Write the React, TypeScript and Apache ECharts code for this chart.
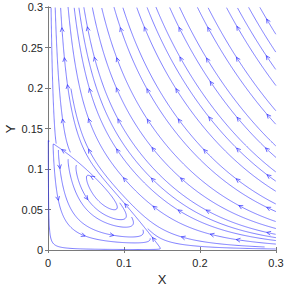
import React, { useEffect, useRef } from "react";
import * as echarts from "echarts";

// Axis ticks and titles
const xTicks = [0, 0.1, 0.2, 0.3];
const yTicks = [0, 0.05, 0.1, 0.15, 0.2, 0.25, 0.3];
const xRange = [0, 0.3];
const yRange = [0, 0.3];
const axisTitles = ["X", "Y"];

// Vector field:
// dX/dt = X (a - X/K - b Y)
// dY/dt = Y (c1 X + c2 X^2 + e Y - d)
const xEqParams = [1.0, 0.15, 7.43]; // a, K, b
const yEqParams = [3.8, 33.3, 6.86, 0.926]; // c1, c2, e, d

// streamslice grids: seed grid, stop grid, arrow grid
const gridSizes = [20, 80, 8];

const LINE_COLOR = "#2b2bff";

function field(x: number, y: number): [number, number] {
  const [a, K, b] = xEqParams;
  const [c1, c2, e, d] = yEqParams;
  return [x * (a - x / K - b * y), y * (c1 * x + c2 * x * x + e * y - d)];
}

function dir(x: number, y: number, s: number): [number, number] | null {
  const [fx, fy] = field(x, y);
  const m = Math.hypot(fx, fy);
  if (m < 1e-10) return null;
  return [(s * fx) / m, (s * fy) / m];
}

function computeStreams() {
  const [N, M, A] = gridSizes;
  const W = xRange[1] - xRange[0];
  const H = yRange[1] - yRange[0];
  const occ = new Int32Array(M * M).fill(-1);
  const occStep = new Int32Array(M * M);
  const startOcc = new Uint8Array(N * N);
  const arrowOcc = new Uint8Array(A * A);
  const h = 0.0007;
  const lines: number[][][] = [];
  const arrows: number[][] = [];
  const cell = (x: number, y: number, n: number) => {
    const cx = Math.min(n - 1, Math.max(0, Math.floor(((x - xRange[0]) / W) * n)));
    const cy = Math.min(n - 1, Math.max(0, Math.floor(((y - yRange[0]) / H) * n)));
    return cy * n + cx;
  };
  const trace = (x0: number, y0: number, s: number, id: number) => {
    const pts: number[][] = [];
    let x = x0, y = y0;
    let prevCell = cell(x, y, M);
    for (let k = 1; k <= 4000; k++) {
      const d1 = dir(x, y, s);
      if (!d1) break;
      const d2 = dir(x + 0.5 * h * d1[0], y + 0.5 * h * d1[1], s);
      if (!d2) break;
      const nx = x + h * d2[0], ny = y + h * d2[1];
      if (nx < xRange[0] || nx > xRange[1] || ny < yRange[0] || ny > yRange[1]) break;
      const step = s * k;
      const c = cell(nx, ny, M);
      if (c !== prevCell) {
        if (occ[c] === -1) { occ[c] = id; occStep[c] = step; }
        else if (occ[c] !== id || Math.abs(occStep[c] - step) > 45) break;
        prevCell = c;
      }
      x = nx; y = ny;
      pts.push([x, y]);
    }
    return pts;
  };
  const total = N * N;
  for (let k = 0; k < total; k++) {
    const idx = (k * 137) % total;
    if (startOcc[idx]) continue;
    const i = idx % N, j = Math.floor(idx / N);
    const x0 = xRange[0] + ((i + 0.5) / N) * W;
    const y0 = yRange[0] + ((j + 0.5) / N) * H;
    const c0 = cell(x0, y0, M);
    if (occ[c0] !== -1) continue;
    const id = lines.length;
    occ[c0] = id; occStep[c0] = 0;
    const fwd = trace(x0, y0, 1, id);
    const bwd = trace(x0, y0, -1, id);
    const line = [...bwd.reverse(), [x0, y0], ...fwd];
    for (const p of line) startOcc[cell(p[0], p[1], N)] = 1;
    // arrows near the centres of a coarse grid
    for (const p of line) {
      const ac = cell(p[0], p[1], A);
      if (arrowOcc[ac]) continue;
      const cx = xRange[0] + ((ac % A) + 0.5) / A * W;
      const cy = yRange[0] + (Math.floor(ac / A) + 0.5) / A * H;
      if (Math.hypot(p[0] - cx, p[1] - cy) < 0.2 * (W / A)) {
        const d = dir(p[0], p[1], 1);
        if (d) { arrows.push([p[0], p[1], d[0], d[1]]); arrowOcc[ac] = 1; }
      }
    }
    const thin: number[][] = [];
    for (let q = 0; q < line.length; q += 2) thin.push(line[q]);
    thin.push(line[line.length - 1]);
    lines.push(thin);
  }
  return { lines, arrows };
}

export default function App() {
  const ref = useRef<HTMLDivElement>(null);
  useEffect(() => {
    if (!ref.current) return;
    const chart = echarts.init(ref.current, undefined, { renderer: "svg" });
    const { lines, arrows } = computeStreams();
    const fmt = (v: number) => String(parseFloat(v.toFixed(3)));
    const font = "Liberation Sans, Arial, sans-serif";
    const axisLine = { show: true, lineStyle: { color: "#7a7a7a", width: 1 } };
    const tickStyle = { show: true, inside: true, length: 3, lineStyle: { color: "#7a7a7a", width: 1 } };
    const labelStyle = { color: "#262626", fontSize: 11, fontFamily: font };
    const series: any[] = lines.map((pts) => ({
      type: "line",
      data: pts,
      showSymbol: false,
      symbol: "none",
      silent: true,
      lineStyle: { color: LINE_COLOR, width: 0.6 },
      emphasis: { disabled: true },
    }));
    series.push({
      type: "custom",
      silent: true,
      data: arrows,
      renderItem: (_p: any, api: any) => {
        const x = api.value(0), y = api.value(1), dx = api.value(2), dy = api.value(3);
        const p = api.coord([x, y]);
        const q = api.coord([x + dx * 0.01, y + dy * 0.01]);
        let vx = q[0] - p[0], vy = q[1] - p[1];
        const L = Math.hypot(vx, vy) || 1;
        vx /= L; vy /= L;
        const len = 4.5, ang = 0.45;
        const bx = -vx, by = -vy;
        const cs = Math.cos(ang), sn = Math.sin(ang);
        const a1 = [p[0] + len * (bx * cs - by * sn), p[1] + len * (bx * sn + by * cs)];
        const a2 = [p[0] + len * (bx * cs + by * sn), p[1] + len * (-bx * sn + by * cs)];
        return {
          type: "polyline",
          shape: { points: [a1, p, a2] },
          style: { stroke: LINE_COLOR, lineWidth: 0.7, fill: null },
        };
      },
    });
    chart.setOption({
      animation: false,
      backgroundColor: "#ffffff",
      grid: { left: 48, right: 12, top: 7, bottom: 38, outerBoundsMode: "none", containLabel: false },
      xAxis: [
        {
          type: "value", min: xRange[0], max: xRange[1], interval: xTicks[1] - xTicks[0],
          position: "bottom",
          axisLine, axisTick: tickStyle, splitLine: { show: false },
          axisLabel: { ...labelStyle, formatter: fmt, margin: 7 },
        },
        {
          type: "value", min: xRange[0], max: xRange[1], interval: xTicks[1] - xTicks[0],
          position: "top", axisLine, axisTick: tickStyle, splitLine: { show: false },
          axisLabel: { show: false },
        },
      ],
      yAxis: [
        {
          type: "value", min: yRange[0], max: yRange[1], interval: yTicks[1] - yTicks[0],
          position: "left",
          axisLine, axisTick: tickStyle, splitLine: { show: false },
          axisLabel: { ...labelStyle, formatter: fmt, margin: 5 },
        },
        {
          type: "value", min: yRange[0], max: yRange[1], interval: yTicks[1] - yTicks[0],
          position: "right", axisLine, axisTick: tickStyle, splitLine: { show: false },
          axisLabel: { show: false },
        },
      ],
      graphic: [
        {
          type: "text", x: 162, y: 279,
          style: { text: axisTitles[0], fontSize: 13, fontFamily: font, fill: "#262626", align: "center", verticalAlign: "middle" },
        },
        {
          type: "text", x: 10, y: 129, rotation: Math.PI / 2,
          style: { text: axisTitles[1], fontSize: 13, fontFamily: font, fill: "#262626", align: "center", verticalAlign: "middle" },
        },
      ],
      series,
    });
    return () => chart.dispose();
  }, []);
  return (
    <div
      ref={ref}
      style={{ position: "fixed", left: 0, top: 0, width: 288, height: 288, background: "#fff" }}
    />
  );
}
